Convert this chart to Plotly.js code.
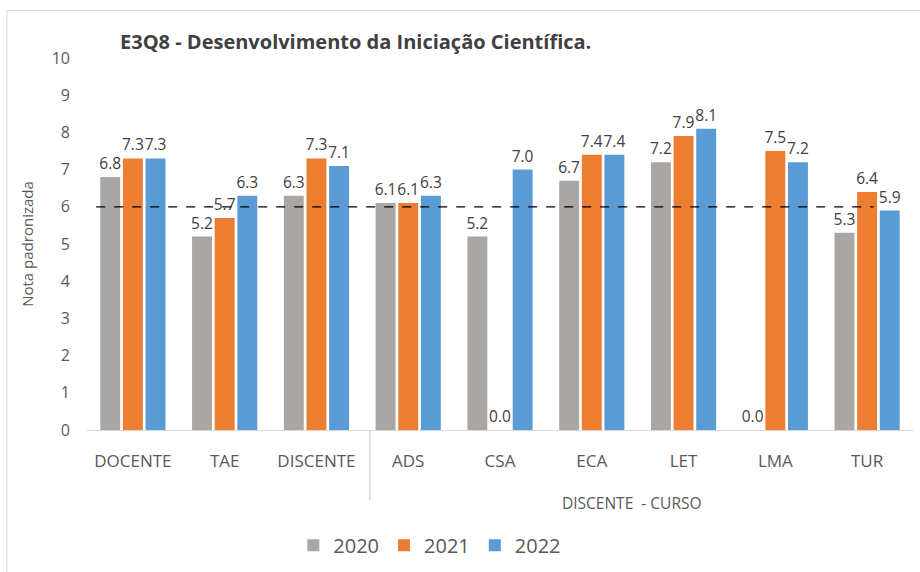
<!DOCTYPE html>
<html><head><meta charset="utf-8">
<script src="https://cdn.plot.ly/plotly-3.0.1.min.js"></script>
<style>html,body{margin:0;padding:0;background:#fff}#chart{width:920px;height:572px}</style>
</head><body><div id="chart"></div>
<script>
const categories = ["DOCENTE","TAE","DISCENTE","ADS","CSA","ECA","LET","LMA","TUR"];
const values2020 = [6.8, 5.2, 6.3, 6.1, 5.2, 6.7, 7.2, 0.0, 5.3];
const values2021 = [7.3, 5.7, 7.3, 6.1, 0.0, 7.4, 7.9, 7.5, 6.4];
const values2022 = [7.3, 6.3, 7.1, 6.3, 7.0, 7.4, 8.1, 7.2, 5.9];
const referenceLine = 6;
const groupLabel = "DISCENTE  - CURSO";

const font = "'Open Sans', 'DejaVu Sans', sans-serif";
function bar(name, y, color) {
  return {
    type: 'bar', name: name, x: categories, y: y,
    marker: {color: color},
    text: y.map(v => v.toFixed(1)),
    textposition: 'outside',
    constraintext: 'none',
    textfont: {family: font, size: 15.5, color: '#404040'},
    cliponaxis: false,
    hoverinfo: 'skip'
  };
}
const data = [
  bar('2020', values2020, '#A9A6A4'),
  bar('2021', values2021, '#ED7D31'),
  bar('2022', values2022, '#5B9BD5')
];
const layout = {
  width: 920, height: 572,
  margin: {l: 87, r: 7, t: 58, b: 138},
  paper_bgcolor: '#fff', plot_bgcolor: '#fff',
  font: {family: font, color: '#595959'},
  barmode: 'group', bargap: 0.26, bargroupgap: 0.12,
  showlegend: true,
  legend: {orientation: 'h', x: 0.415, xanchor: 'center', y: -0.31, yanchor: 'middle',
           font: {size: 20, color: '#595959'}, itemwidth: 30, traceorder: 'normal'},
  title: {text: '<b>E3Q8 - Desenvolvimento da Iniciação Científica.</b>',
          font: {family: font, size: 20, color: '#404040'},
          x: 0.04, xref: 'paper', xanchor: 'left', y: 0.927, yref: 'container', yanchor: 'middle'},
  xaxis: {type: 'category', showline: true, linecolor: '#D9D9D9', linewidth: 1,
          ticks: '', tickfont: {size: 17, color: '#595959'}, ticklabelstandoff: 16,
          showgrid: false, zeroline: false},
  yaxis: {range: [0, 10], dtick: 1, showgrid: false, zeroline: false, showline: false,
          ticks: '', tickfont: {size: 16, color: '#595959'}, ticklabelstandoff: 16,
          title: {text: 'Nota padronizada', font: {size: 15, color: '#595959'}, standoff: 14}},
  shapes: [
    {type: 'line', xref: 'x', yref: 'y', x0: -0.4, x1: 8.07, y0: referenceLine, y1: referenceLine,
     line: {color: '#000', width: 1.2, dash: 'dash'}},
    {type: 'line', xref: 'paper', yref: 'paper', x0: 0.3426, x1: 0.3426, y0: 0, y1: -0.189,
     line: {color: '#BFBFBF', width: 1}},
    {type: 'rect', xref: 'paper', yref: 'paper', x0: -0.097, x1: 1.02, y0: -0.5, y1: 1.1277,
     line: {color: '#D9D9D9', width: 1}, fillcolor: 'rgba(0,0,0,0)', layer: 'below'}
  ],
  annotations: [
    {text: groupLabel, xref: 'paper', yref: 'paper', x: 0.66, y: -0.197, xanchor: 'center', yanchor: 'middle',
     showarrow: false, font: {size: 15.5, color: '#595959'}}
  ]
};
Plotly.newPlot('chart', data, layout, {displayModeBar: false, staticPlot: true});
</script></body></html>
